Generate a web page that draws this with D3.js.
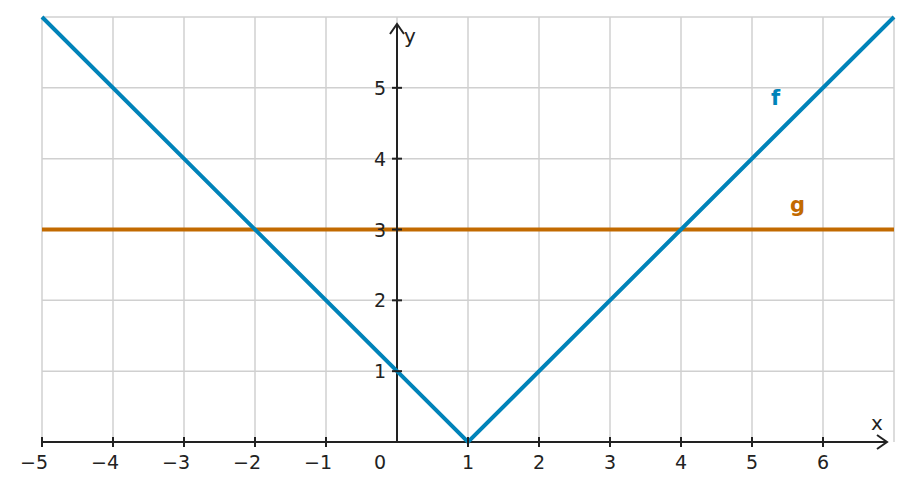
<!DOCTYPE html>
<html><head><meta charset="utf-8">
<script src="https://cdn.jsdelivr.net/npm/d3@7"></script>
<style>body{margin:0;background:#fff}text{font-family:"DejaVu Sans",sans-serif}</style>
</head><body>
<script>
var xTicks = [-5, -4, -3, -2, -1, 0, 1, 2, 3, 4, 5, 6];
var yTicks = [1, 2, 3, 4, 5];
var fPoints = [[-5, 6], [1, 0], [7, 6]];
var gPoints = [[-5, 3], [7, 3]];

var W = 911, H = 491;
var x = d3.scaleLinear().domain([-5, 7]).range([42, 894]);
var y = d3.scaleLinear().domain([0, 6]).range([442, 17]);
var svg = d3.select("body").append("svg").attr("width", W).attr("height", H);

// grid
svg.selectAll(".gx").data(d3.range(-5, 8)).enter().append("line")
	.attr("x1", d => x(d)).attr("x2", d => x(d)).attr("y1", y(0)).attr("y2", y(6))
	.attr("stroke", "#d0d0d0").attr("stroke-width", 1.5);
svg.selectAll(".gy").data(d3.range(1, 7)).enter().append("line")
	.attr("x1", x(-5)).attr("x2", x(7)).attr("y1", d => y(d)).attr("y2", d => y(d))
	.attr("stroke", "#d0d0d0").attr("stroke-width", 1.5);

var line = d3.line().x(d => x(d[0])).y(d => y(d[1]));
svg.append("path").attr("d", line(gPoints)).attr("stroke", "#c26a00").attr("stroke-width", 4).attr("fill", "none");

// axes
var ax = "#222";
svg.append("line").attr("x1", x(-5)).attr("x2", 887).attr("y1", y(0)).attr("y2", y(0)).attr("stroke", ax).attr("stroke-width", 2);
svg.append("path").attr("d", "M877," + (y(0) - 7) + " L887," + y(0) + " L877," + (y(0) + 7)).attr("stroke", ax).attr("stroke-width", 2).attr("fill", "none");
svg.append("line").attr("x1", x(0)).attr("x2", x(0)).attr("y1", y(0)).attr("y2", 24).attr("stroke", ax).attr("stroke-width", 2);
svg.append("path").attr("d", "M" + (x(0) - 7) + ",34 L" + x(0) + ",24 L" + (x(0) + 7) + ",34").attr("stroke", ax).attr("stroke-width", 2).attr("fill", "none");

svg.append("path").attr("d", line(fPoints)).attr("stroke", "#0083b9").attr("stroke-width", 4).attr("fill", "none");

svg.selectAll(".tx").data(xTicks.filter(d => d !== 0)).enter().append("line")
	.attr("x1", d => x(d)).attr("x2", d => x(d)).attr("y1", y(0) - 5).attr("y2", y(0) + 5).attr("stroke", ax).attr("stroke-width", 2);
svg.selectAll(".ty").data(yTicks).enter().append("line")
	.attr("x1", x(0) - 5).attr("x2", x(0) + 5).attr("y1", d => y(d)).attr("y2", d => y(d)).attr("stroke", ax).attr("stroke-width", 2);

svg.selectAll(".lx").data(xTicks).enter().append("text")
	.attr("x", d => d === 0 ? x(0) - 17 : x(d) - (d < 0 ? 8 : 0)).attr("y", 469)
	.attr("text-anchor", "middle").attr("font-size", 19).attr("fill", ax)
	.text(d => d < 0 ? "\u2212" + (-d) : d);
svg.selectAll(".ly").data(yTicks).enter().append("text")
	.attr("x", x(0) - 11).attr("y", d => y(d) + 7)
	.attr("text-anchor", "end").attr("font-size", 19).attr("fill", ax).text(d => d);

svg.append("text").attr("x", 871).attr("y", 430).attr("font-size", 20).attr("fill", ax).text("x");
svg.append("text").attr("x", 404).attr("y", 43).attr("font-size", 20).attr("fill", ax).text("y");
svg.append("text").attr("x", 771).attr("y", 105).attr("font-size", 21).attr("font-weight", "bold").attr("fill", "#0083b9").text("f");
svg.append("text").attr("x", 790).attr("y", 212).attr("font-size", 21).attr("font-weight", "bold").attr("fill", "#c26a00").text("g");
</script>
</body></html>
